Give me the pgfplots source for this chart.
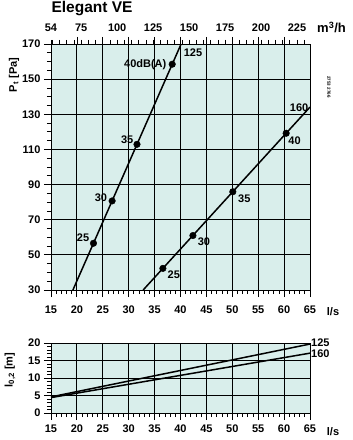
\documentclass[border=0pt]{standalone}
\usepackage{fontspec}
\setmainfont{Liberation Sans}
\usepackage{pgfplots}
\pgfplotsset{compat=1.18}
\definecolor{bgc}{RGB}{217,238,235}
\tikzset{lbl/.style={font=\bfseries\fontsize{11}{13}\selectfont, inner sep=1pt}}
\begin{document}
\begin{tikzpicture}[x=1pt,y=1pt]
\useasboundingbox (0,0) rectangle (353,440);
\pgfplotsset{
  common/.style={
    scale only axis, width=259pt,
    font=\bfseries\fontsize{11}{13}\selectfont,
    /pgf/number format/assume math mode=true,
    tick align=outside,
    major tick length=7pt, minor tick length=4pt,
    every tick/.style={black, line width=0.8pt},
    axis line style={black, line width=0.9pt},
    grid=major, major grid style={black, line width=0.8pt},
    axis background/.style={fill=bgc},
    xmin=15, xmax=65, xtick={15,20,...,65}, minor x tick num=4,
    xtick pos=left, ytick pos=left,
    clip=false,
  },
}
% main axis
\begin{axis}[common, at={(51pt,150pt)}, anchor=south west, height=246pt,
  ymin=30, ymax=170, ytick={30,50,...,170}, minor y tick num=3,
  xticklabel style={yshift=-5pt}]
\addplot[black, line width=1.5pt] coordinates {(19.23,30) (40.12,170)};
\addplot[black, only marks, mark=*, mark size=3.3pt] coordinates {(23.2,56.6) (26.8,80.7) (31.6,112.9) (38.4,158.5)};
\addplot[black, line width=1.5pt] coordinates {(32.79,30) (65,134.1)};
\addplot[black, only marks, mark=*, mark size=3.3pt] coordinates {(36.6,42.3) (42.4,61.0) (50.1,85.9) (60.4,119.2)};
\node[lbl] at (axis cs:21.2,59.6) {25};
\node[lbl] at (axis cs:24.65,82.8) {30};
\node[lbl] at (axis cs:29.7,115.8) {35};
\node[lbl, anchor=east] at (axis cs:37.5,158.3) {40dB(A)};
\node[lbl, anchor=west] at (axis cs:40.4,164.9) {125};
\node[lbl, anchor=west] at (axis cs:37.3,38.5) {25};
\node[lbl, anchor=west] at (axis cs:43.1,57.5) {30};
\node[lbl, anchor=west] at (axis cs:50.9,81.8) {35};
\node[lbl, anchor=west] at (axis cs:60.6,115) {40};
\node[lbl, anchor=west] at (axis cs:60.9,134) {160};
\end{axis}
% top m3/h axis
\begin{axis}[scale only axis, width=259pt, height=246pt, at={(51pt,150pt)}, anchor=south west,
  xmin=54, xmax=234, ymin=0, ymax=1, axis x line*=top, axis y line=none,
  font=\bfseries\fontsize{11}{13}\selectfont,
  /pgf/number format/assume math mode=true,
  xtick={54,75,100,...,225}, minor xtick={55,60,...,230},
  extra x ticks={72,90,...,216}, extra x tick labels={},
  extra x tick style={major tick length=7pt},
  tick align=outside, major tick length=4pt, minor tick length=4pt,
  every tick/.style={black, line width=0.8pt},
  axis line style={black, line width=0.9pt},
  xticklabel style={yshift=5pt}]
\addplot[draw=none] coordinates {(54,0) (234,1)};
\end{axis}
% lower axis
\begin{axis}[common, at={(51pt,27pt)}, anchor=south west, height=70pt,
  ymin=0, ymax=20, ytick={0,5,...,20}, minor y tick num=4,
  xticklabel style={yshift=-1pt}]
\addplot[black, line width=1.5pt] coordinates {(15,4.6) (65,19.7)};
\addplot[black, line width=1.5pt] coordinates {(15,4.4) (65,17.1)};
\node[lbl, anchor=west] at (axis cs:65,20.0) {125};
\node[lbl, anchor=west] at (axis cs:65,16.9) {160};
\end{axis}
\node[anchor=center, font=\bfseries\fontsize{15.5}{17}\selectfont] at (92,431) {Elegant VE};
\node[anchor=base west, inner sep=0pt, font=\bfseries\fontsize{13}{15}\selectfont] at (317,407) {m\textsuperscript{3}/h};
\node[lbl] at (333,128) {l/s};
\node[lbl] at (333,8) {l/s};
\node[lbl, rotate=90] at (14,365) {P\textsubscript{t} [Pa]};
\node[lbl, rotate=90] at (10,70) {l\textsubscript{0,2} [m]};
\node[rotate=-90, font=\bfseries\fontsize{4.5}{5}\selectfont, inner sep=0pt] at (329,353) {2753 2766};
\end{tikzpicture}
\end{document}
